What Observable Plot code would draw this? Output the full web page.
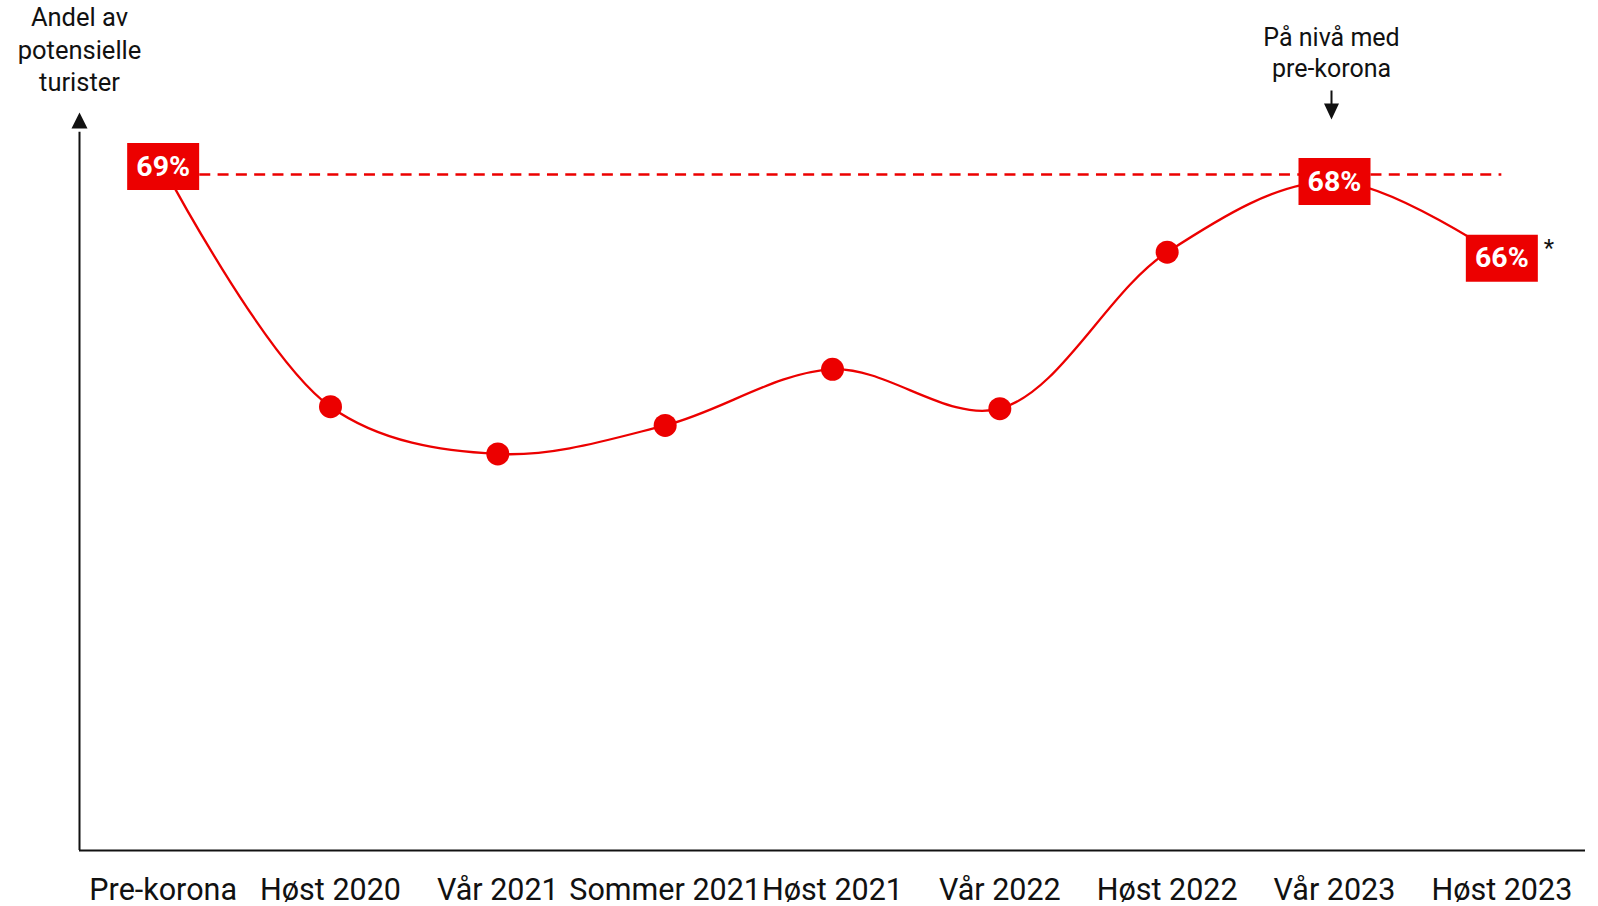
<!DOCTYPE html>
<html>
<head>
<meta charset="utf-8">
<script src="https://cdn.jsdelivr.net/npm/d3@7"></script>
<script src="https://cdn.jsdelivr.net/npm/@observablehq/plot@0.6"></script>
<style>
  html, body { margin: 0; padding: 0; background: #fff; }
  #chart svg { display: block; }
</style>
</head>
<body>
<div id="chart"></div>
<script>
// ---- data ----
const categories = ["Pre-korona", "Høst 2020", "Vår 2021", "Sommer 2021", "Høst 2021", "Vår 2022", "Høst 2022", "Vår 2023", "Høst 2023"];
const values = [69.5, 45.1, 40.3, 43.2, 48.9, 44.9, 60.8, 68.0, 60.2];
const boxLabels = ["69%", null, null, null, null, null, null, "68%", "66%"];
const preCoronaLevel = 68.7;
const yTitle = "Andel av\npotensielle\nturister";
const annotation = "På nivå med\npre-korona";
const annotationIndex = 7;
const footnoteMark = "*";

const RED = "#ec0000";
const data = categories.map((c, i) => ({i, c, v: values[i], label: boxLabels[i]}));
const boxed = data.filter(d => d.label);
const dotted = data.filter(d => !d.label);

// custom symbols
const boxSymbol = {draw(ctx) { ctx.rect(-36, -23.5, 72, 47); }};
const upHead = {draw(ctx) { ctx.moveTo(0, 0); ctx.lineTo(-8, 16); ctx.lineTo(8, 16); ctx.closePath(); }};
const downArrow = {draw(ctx) {
  ctx.rect(-1, 0, 2, 15);
  ctx.moveTo(-7.5, 13); ctx.lineTo(7.5, 13); ctx.lineTo(0, 29); ctx.closePath();
}};

const plot = Plot.plot({
  width: 1598,
  height: 906,
  marginLeft: 79,
  marginRight: 13,
  marginTop: 112,
  marginBottom: 56,
  style: {fontFamily: "Roboto, sans-serif", color: "#111", background: "#fff"},
  x: {domain: [-0.5, categories.length - 0.5], axis: null},
  y: {domain: [0, 75], axis: null},
  marks: [
    // axes
    Plot.ruleY([0], {stroke: "#111", strokeWidth: 2}),
    Plot.ruleX([-0.5], {y1: 0, y2: 73, stroke: "#111", strokeWidth: 2}),
    Plot.dot([-0.5], {x: d => d, frameAnchor: "top", symbol: upHead, fill: "#111", stroke: null}),
    Plot.axisX({
      ticks: d3.range(categories.length),
      tickFormat: i => categories[i],
      tickSize: 0,
      tickPadding: 28,
      fontSize: 30.5,
      label: null,
      fill: "#111"
    }),
    Plot.text([yTitle], {
      x: -0.5, frameAnchor: "top", lineAnchor: "top", dy: -109,
      fontSize: 25.5, lineHeight: 1.265, fill: "#111"
    }),
    // pre-corona reference
    Plot.ruleY([preCoronaLevel], {x1: 0, x2: categories.length - 1, stroke: RED, strokeWidth: 2.4, strokeDasharray: "11,7.3"}),
    // series
    Plot.line(data, {x: "i", y: "v", curve: "catmull-rom", stroke: RED, strokeWidth: 2.3}),
    Plot.dot(dotted, {x: "i", y: "v", r: 11.5, fill: RED, stroke: null}),
    Plot.dot(boxed, {x: "i", y: "v", symbol: boxSymbol, fill: RED, stroke: null}),
    Plot.text(boxed, {x: "i", y: "v", text: "label", fill: "#fff", fontSize: 28.5, fontWeight: "bold"}),
    // annotation
    Plot.text([annotation], {
      x: annotationIndex, frameAnchor: "top", lineAnchor: "top", dy: -89, dx: -3,
      fontSize: 25, lineHeight: 1.25, fill: "#111"
    }),
    Plot.dot([annotationIndex], {x: d => d, frameAnchor: "top", dy: -22, dx: -3, symbol: downArrow, fill: "#111", stroke: null}),
    Plot.text([data[data.length - 1]], {x: "i", y: "v", text: () => footnoteMark, dx: 47, dy: -10, fontSize: 24, fill: "#111"})
  ]
});
document.getElementById("chart").appendChild(plot);
</script>
</body>
</html>
